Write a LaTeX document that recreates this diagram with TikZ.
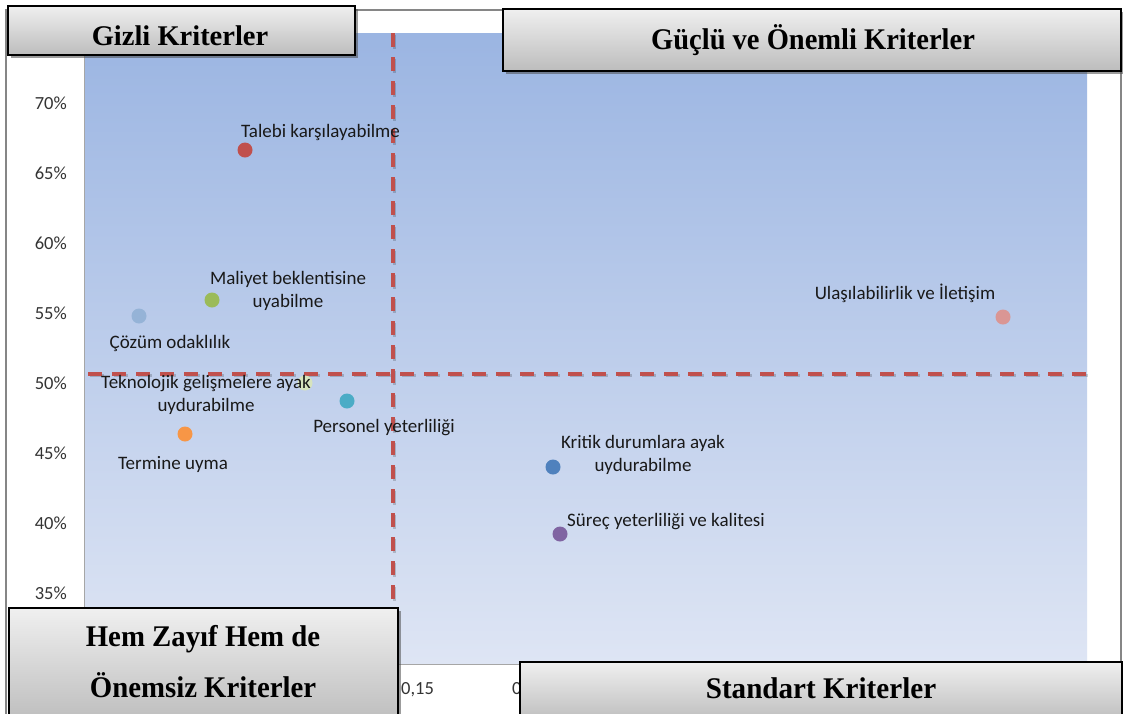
\documentclass[tikz,border=0pt]{standalone}
\usepackage{fontspec}
\usepackage{graphicx}
\setmainfont{Liberation Serif}
\newfontfamily\lblfont{Carlito}
\usetikzlibrary{shadows}
\definecolor{plottop}{RGB}{155,181,226}
\definecolor{plotbot}{RGB}{222,229,244}
\definecolor{refred}{RGB}{192,80,77}
\definecolor{framegray}{RGB}{134,134,134}
\definecolor{cTalebi}{HTML}{C0504D}
\definecolor{cMaliyet}{HTML}{9BBB59}
\definecolor{cCozum}{HTML}{95B3D7}
\definecolor{cTekno}{HTML}{D7E4BD}
\definecolor{cPersonel}{HTML}{4BACC6}
\definecolor{cTermine}{HTML}{F79646}
\definecolor{cKritik}{HTML}{4F81BD}
\definecolor{cSurec}{HTML}{8064A2}
\definecolor{cUlas}{HTML}{DA9694}
\tikzset{
  dot/.style={circle, inner sep=0pt, minimum size=15pt, fill=#1},
  lbl/.style={font=\lblfont\fontsize{19}{23}\selectfont, text=black!90, inner sep=0pt, align=center},
  ticklbl/.style={font=\lblfont\fontsize{18.5}{20}\selectfont, text=black!80, inner sep=0pt},
  quadbox/.style={draw=black, line width=1.6pt, top color=gray!12, bottom color=gray!52,
    drop shadow={shadow xshift=3.5pt, shadow yshift=-3.5pt, opacity=0.55, fill=black!70},
    inner sep=0pt, anchor=north west},
  quadtext/.style={font=\bfseries\fontsize{30}{51}\selectfont, inner sep=0pt, align=center},
  dline/.style={draw=refred, line width=3.3pt, dash pattern=on 14pt off 10pt},
  dshadow/.style={draw=black, opacity=0.18, line width=3.3pt, dash pattern=on 14pt off 10pt}
}
\begin{document}
\begin{tikzpicture}[x=1pt,y=-1pt]
\useasboundingbox (0,0) rectangle (1123,713);
\clip (0,0) rectangle (1123,713);
\fill[white] (0,0) rectangle (1123,713);

% chart frame
\draw[framegray, line width=1.2pt] (6,730) -- (6,10) -- (1121,10) -- (1121,730);

% plot area with gradient
\shade[top color=plottop, bottom color=plotbot] (84,33) rectangle (1087,663);
\draw[gray!70, line width=1pt] (84,33) -- (84,664) -- (1087,664);

% y-axis tick labels
\foreach \v [count=\i from 0] in {70,65,60,55,50,45,40,35}
  \node[ticklbl, anchor=east] (ty\v) at (67,{103+70*\i}) {\v\%};

% x-axis tick labels
\node[ticklbl, anchor=west] (tx15) at (401,690) {0,15};
\node[ticklbl, anchor=west] (tx20) at (512,690) {0,2};

% reference lines
\coordinate (vtop) at (393,33);
\coordinate (vbot) at (393,663);
\coordinate (hleft) at (88,374);
\coordinate (hright) at (1087,374);
\draw[dshadow, transform canvas={shift={(1.5pt,-1.5pt)}}] (vtop) -- (vbot);
\draw[dshadow, transform canvas={shift={(1.5pt,-1.5pt)}}] (hleft) -- (hright);
\draw[dline] (vtop) -- (vbot);
\draw[dline] (hleft) -- (hright);

% data points
\node[dot=cTalebi]   (pTalebi)   at (245,150) {};
\node[dot=cMaliyet]  (pMaliyet)  at (212,300) {};
\node[dot=cCozum]    (pCozum)    at (139,316) {};
\node[dot=cTekno]    (pTekno)    at (305,383) {};
\node[dot=cPersonel] (pPersonel) at (347,401) {};
\node[dot=cTermine]  (pTermine)  at (185,434) {};
\node[dot=cKritik]   (pKritik)   at (553,467) {};
\node[dot=cSurec]    (pSurec)    at (560,534) {};
\node[dot=cUlas]     (pUlas)     at (1003,317) {};

% point labels
\node[lbl, anchor=west] (lTalebi) at (241,132) {Talebi karşılayabilme};
\node[lbl] (lMaliyet) at (288,291) {Maliyet beklentisine\\uyabilme};
\node[lbl] (lCozum) at (170,343) {Çözüm odaklılık};
\node[lbl] (lTekno) at (206,395) {Teknolojik gelişmelere ayak\\uydurabilme};
\node[lbl] (lPersonel) at (384,428) {Personel yeterliliği};
\node[lbl] (lTermine) at (173,464) {Termine uyma};
\node[lbl] (lKritik) at (643,455) {Kritik durumlara ayak\\uydurabilme};
\node[lbl, anchor=west] (lSurec) at (567,522) {Süreç yeterliliği ve kalitesi};
\node[lbl] (lUlas) at (905,293) {Ulaşılabilirlik ve İletişim};

% quadrant title boxes
\node[quadbox, minimum width=347pt, minimum height=49pt] (bGizli) at (7,5) {};
\node[quadtext] (tGizli) at (180,36) {\fontsize{28.5}{34}\selectfont Gizli Kriterler};

\node[quadbox, minimum width=618pt, minimum height=62pt] (bGuclu) at (502,8) {};
\node[quadtext] (tGuclu) at (813,40) {\scalebox{0.95}[1]{Güçlü ve Önemli Kriterler}};

\node[quadbox, minimum width=389pt, minimum height=115pt] (bHem) at (8,607) {};
\node[quadtext] (tHem) at (203,662) {\scalebox{0.96}[1]{\begin{tabular}{@{}c@{}}Hem Zayıf Hem de\\Önemsiz Kriterler\end{tabular}}};

\node[quadbox, minimum width=602pt, minimum height=60pt] (bStandart) at (519,661) {};
\node[quadtext] (tStandart) at (821,688) {\scalebox{0.97}[1]{Standart Kriterler}};
\end{tikzpicture}
\end{document}
